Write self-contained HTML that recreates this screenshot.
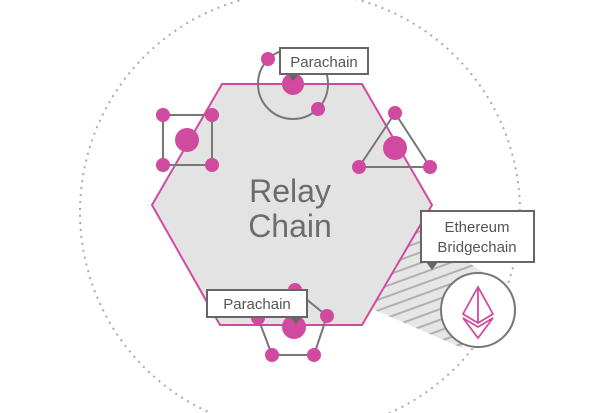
<!DOCTYPE html>
<html><head><style>html,body{margin:0;padding:0;background:#fff}svg{display:block}</style></head><body>
<svg width="604" height="413" viewBox="0 0 604 413" xmlns="http://www.w3.org/2000/svg" font-family="Liberation Sans, sans-serif">
<defs>
<pattern id="h" width="10" height="10" patternUnits="userSpaceOnUse" patternTransform="rotate(-20)">
<rect width="10" height="10" fill="#e6e6e6"/><rect width="10" height="2" fill="#b0b0b0"/>
</pattern>
</defs>
<circle cx="300" cy="212" r="220" fill="none" stroke="#aaa" stroke-width="2" stroke-dasharray="2,5"/>
<polygon points="420,226 370,308 462,348 488,276 468,262" fill="url(#h)"/>
<polygon points="222,84 362,84 432,205 362,325 220,325 152,205" fill="#e3e3e3" stroke="#d04aa0" stroke-width="2"/>
<text x="290" y="202" font-size="32" fill="#6c6c6c" text-anchor="middle">Relay</text>
<text x="290" y="237" font-size="32" fill="#6c6c6c" text-anchor="middle">Chain</text>
<!-- top parachain -->
<circle cx="293" cy="84" r="35" fill="none" stroke="#777" stroke-width="2"/>
<circle cx="268" cy="59" r="7" fill="#d04aa0"/>
<circle cx="318" cy="109" r="7" fill="#d04aa0"/>
<circle cx="293" cy="84" r="11" fill="#d04aa0"/>
<rect x="280" y="48" width="88" height="26" fill="#fff" stroke="#666" stroke-width="2"/>
<polygon points="288,74 299,74 293,81" fill="#666"/>
<text x="324" y="67" font-size="15" fill="#555" text-anchor="middle">Parachain</text>
<!-- square -->
<rect x="163" y="115" width="49" height="50" fill="none" stroke="#777" stroke-width="2"/>
<circle cx="163" cy="115" r="7" fill="#d04aa0"/><circle cx="212" cy="115" r="7" fill="#d04aa0"/>
<circle cx="163" cy="165" r="7" fill="#d04aa0"/><circle cx="212" cy="165" r="7" fill="#d04aa0"/>
<circle cx="187" cy="140" r="12" fill="#d04aa0"/>
<!-- triangle -->
<polygon points="395,113 359,167 430,167" fill="none" stroke="#777" stroke-width="2"/>
<circle cx="395" cy="113" r="7" fill="#d04aa0"/><circle cx="359" cy="167" r="7" fill="#d04aa0"/><circle cx="430" cy="167" r="7" fill="#d04aa0"/>
<circle cx="395" cy="148" r="12" fill="#d04aa0"/>
<!-- pentagon -->
<polygon points="295,290 327,316 314,355 272,355 258,318" fill="none" stroke="#777" stroke-width="2"/>
<circle cx="295" cy="290" r="7" fill="#d04aa0"/><circle cx="327" cy="316" r="7" fill="#d04aa0"/>
<circle cx="314" cy="355" r="7" fill="#d04aa0"/><circle cx="272" cy="355" r="7" fill="#d04aa0"/>
<circle cx="258" cy="318" r="7" fill="#d04aa0"/><circle cx="294" cy="327" r="12" fill="#d04aa0"/>
<rect x="207" y="290" width="100" height="27" fill="#fff" stroke="#666" stroke-width="2"/>
<polygon points="290,317 302,317 296,324" fill="#666"/>
<text x="257" y="309" font-size="15" fill="#555" text-anchor="middle">Parachain</text>
<!-- ethereum -->
<circle cx="478" cy="310" r="37" fill="#fff" stroke="#777" stroke-width="2"/>
<g fill="none" stroke="#d04aa0" stroke-width="1.8">
<polygon points="478,287 463,314 478,323 493,314"/>
<polygon points="463,318 478,338 493,318 478,327"/>
<line x1="478" y1="287" x2="478" y2="323"/>
</g>
<rect x="421" y="211" width="113" height="51" fill="#fff" stroke="#666" stroke-width="2"/>
<polygon points="426,262 438,262 432,270" fill="#666"/>
<text x="477" y="232" font-size="15" fill="#555" text-anchor="middle">Ethereum</text>
<text x="477" y="252" font-size="15" fill="#555" text-anchor="middle">Bridgechain</text>
</svg>
</body></html>
